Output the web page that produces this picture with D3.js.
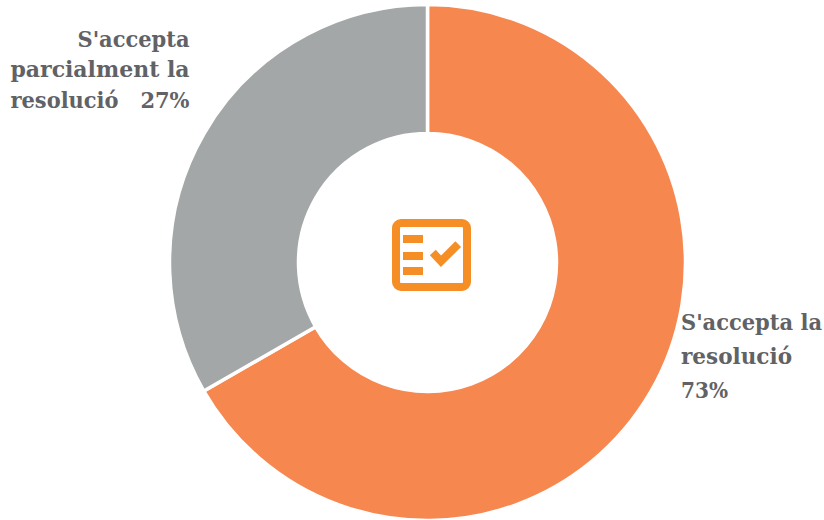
<!DOCTYPE html>
<html><head><meta charset="utf-8">
<script src="https://cdn.jsdelivr.net/npm/d3@7"></script>
<style>html,body{margin:0;background:#fff}svg{display:block}
text{font-family:"DejaVu Serif Condensed","DejaVu Serif",serif;font-stretch:condensed;font-weight:700;font-size:23px;fill:#616265}</style></head>
<body><svg width="824" height="520"></svg>
<script>
const categories = ["S'accepta la resolució", "S'accepta parcialment la resolució"];
const sliceShares = [66.7, 33.3];
const colors = ["#F6874F", "#A4A7A8"];
const labelRight = ["S'accepta la", "resolució", "73%"];
const labelLeft = ["S'accepta", "parcialment la", "resolució   27%"];

const svg = d3.select("svg");
const cx = 427.5, cy = 262.5, R = 258, r = 129;
const pie = d3.pie().sort(null).value(d => d);
const arc = d3.arc().innerRadius(r).outerRadius(R);
const g = svg.append("g").attr("transform", `translate(${cx},${cy})`);
g.selectAll("path").data(pie(sliceShares)).join("path")
  .attr("d", arc).attr("fill", (d, i) => colors[i])
  .attr("stroke", "#fff").attr("stroke-width", 3.5);

svg.append("g").selectAll("text").data(labelRight).join("text")
  .attr("x", 681).attr("y", (d, i) => 330 + i * 34)
  .attr("textLength", (d,i)=>[141,111,47][i]).attr("lengthAdjust","spacingAndGlyphs").text(d => d);
svg.append("g").selectAll("text").data(labelLeft).join("text")
  .attr("x", 189.5).attr("y", (d, i) => 46.5 + i * 30.5).attr("text-anchor", "end")
  .style("white-space", "pre")
  .attr("textLength", (d,i)=>[112,179,179][i]).attr("lengthAdjust","spacingAndGlyphs").text(d => d);

const icon = svg.append("g").attr("transform", `translate(${cx + 4},${cy - 7.5})`);
const ink = "#F68E26";
icon.append("rect").attr("x", -35.5).attr("y", -32).attr("width", 71).attr("height", 64).attr("rx", 5)
  .attr("fill", "none").attr("stroke", ink).attr("stroke-width", 8);
[-20, -3, 12].forEach(y => icon.append("rect").attr("x", -28.5).attr("y", y).attr("width", 20).attr("height", 8).attr("fill", ink));
icon.append("path").attr("d", "M1.3,-2.5 L9.5,6.3 L26.7,-10.8").attr("fill", "none").attr("stroke", ink).attr("stroke-width", 8);
</script></body></html>
